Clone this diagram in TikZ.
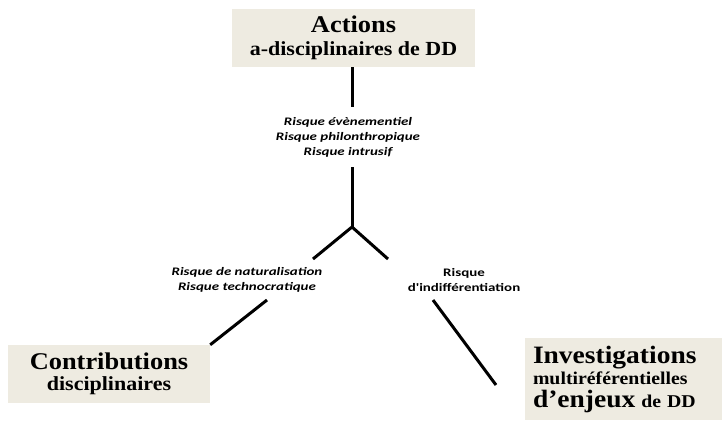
\documentclass[tikz,border=0pt]{standalone}
\usepackage{fontspec}
\setmainfont[FakeStretch=1.1]{Liberation Serif}
\newfontfamily\risquefont[FakeStretch=1.3]{Carlito}
\usetikzlibrary{calc}
\definecolor{beigeboite}{HTML}{EEEBE1}
\tikzset{
	boite/.style={fill=beigeboite, inner sep=0pt},
	risque/.style={font=\risquefont\bfseries\itshape\fontsize{11.5}{15}\selectfont, align=center, inner sep=0pt},
	trait/.style={line width=3pt}
}
\newcommand{\grand}{\fontsize{24}{24}\selectfont}
\newcommand{\moyen}{\fontsize{20}{20}\selectfont}

\begin{document}
\begin{tikzpicture}[x=1pt, y=-1pt]
			%%%%% START %%%%%
			\useasboundingbox (0, 0) rectangle (724, 421);
			
			% les trois boites
			\node[boite, minimum width=243, minimum height=58, align=center,
				font=\bfseries\fontsize{20}{23}\selectfont] (actions) at (353.5, 38)
				{{\grand Actions}\\{\moyen a-disciplinaires de DD}};
			\node[boite, minimum width=202, minimum height=58, align=center,
				font=\bfseries\fontsize{20}{21}\selectfont] (contrib) at (109, 374)
				{{\grand Contributions}\\{\moyen disciplinaires}};
			\node[boite, minimum width=197, minimum height=82, text width=181, align=left,
				font=\bfseries\fontsize{18}{21}\selectfont] (investig) at (623.5, 379)
				{{\fontsize{25}{21}\selectfont Investigations}\\{\fontsize{18}{21}\selectfont multiréférentielles}\\[2pt]{\fontsize{25}{21}\selectfont d'enjeux}{\fontsize{18}{21}\selectfont\ de DD}};
			
			% les risques
			\node[risque] (risqueHaut) at (348, 137) {Risque évènementiel\\Risque philonthropique\\Risque intrusif};
			\node[risque] (risqueGauche) at (247, 280) {Risque de naturalisation\\Risque technocratique};
			\node[risque, font=\risquefont\bfseries\fontsize{11.5}{15}\selectfont] (risqueDroite) at (464, 280) {Risque\\d'indifférentiation};
			
			% le tronc et les branches
			\coordinate (haut1) at (352, 107);
			\coordinate (haut2) at (352, 167);
			\coordinate (fourche) at (352, 227);
			\coordinate (brancheG) at (313, 259);
			\coordinate (brancheD) at (388, 259);
			\coordinate (basG) at (267, 300);
			\coordinate (basD) at (433, 300);
			\coordinate (finD) at (496, 385);
			
			\draw[trait] (actions.south -| haut1) -- (haut1);
			\draw[trait] (haut2) -- (fourche);
			\draw[trait] (brancheG) -- (fourche) -- (brancheD);
			\draw[trait] (basG) -- (contrib.north east);
			\draw[trait] (basD) -- (finD);
			%%%%% END %%%%%
\end{tikzpicture}
\end{document}
